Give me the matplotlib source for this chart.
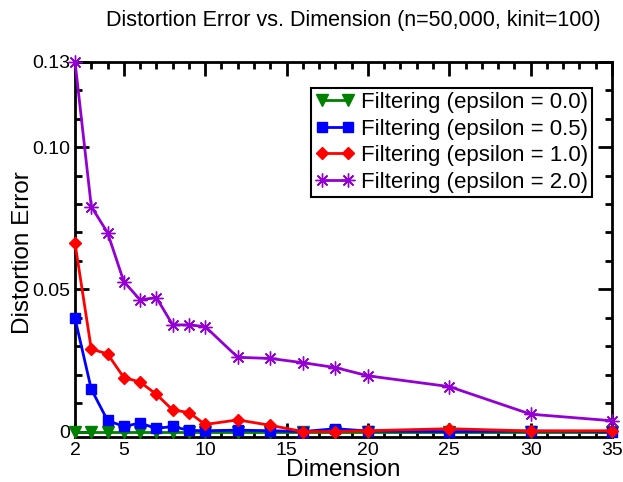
import matplotlib
matplotlib.use("Agg")
import matplotlib.pyplot as plt
from matplotlib.ticker import MultipleLocator, FixedLocator

plt.rcParams['font.family'] = ['Liberation Sans', 'DejaVu Sans']

dims = [2, 3, 4, 5, 6, 7, 8, 9, 10, 12, 14, 16, 18, 20, 25, 30, 35]
eps00 = [0.0] * 17
eps05 = [0.0398, 0.0149, 0.0039, 0.0018, 0.0030, 0.0011, 0.0018, 0.0004, 0.0003,
         0.0005, 0.0003, 0.0000, 0.0010, 0.0002, 0.0000, 0.0002, 0.0000]
eps10 = [0.0662, 0.0290, 0.0273, 0.0190, 0.0174, 0.0131, 0.0076, 0.0067, 0.0025,
         0.0041, 0.0022, 0.0000, 0.0000, 0.0003, 0.0010, 0.0002, 0.0003]
eps20 = [0.1300, 0.0791, 0.0699, 0.0527, 0.0463, 0.0471, 0.0375, 0.0375, 0.0369,
         0.0261, 0.0257, 0.0242, 0.0225, 0.0196, 0.0158, 0.0061, 0.0038]

labels = ["Filtering (epsilon = 0.0)", "Filtering (epsilon = 0.5)",
          "Filtering (epsilon = 1.0)", "Filtering (epsilon = 2.0)"]
xticks = [2, 5, 10, 15, 20, 25, 30, 35]
yticks = [0, 0.05, 0.10, 0.13]
ytick_labels = ["0", "0.05", "0.10", "0.13"]

fig = plt.figure(figsize=(6.23, 4.82), dpi=100)
ax = fig.add_axes([0.1204, 0.094, 0.862, 0.778])

ax.plot(dims, eps00, color='#008000', marker='v', markersize=8, lw=2, label=labels[0], clip_on=False, zorder=3)
ax.plot(dims, eps05, color='#0000ff', marker='s', markersize=7, lw=2, label=labels[1], clip_on=False, zorder=4)
ax.plot(dims, eps10, color='#ff0000', marker='D', markersize=6, lw=2, label=labels[2], clip_on=False, zorder=5)
ax.plot(dims, eps20, color='#9400d3', marker=(8, 2, 0), markersize=10, lw=2, mew=1.0,
        label=labels[3], clip_on=False, zorder=6)

ax.set_xlim(2, 35)
ax.set_ylim(-0.0018, 0.13)
ax.xaxis.set_major_locator(FixedLocator(xticks))
ax.xaxis.set_minor_locator(MultipleLocator(1))
ax.yaxis.set_major_locator(FixedLocator(yticks))
ax.set_yticklabels(ytick_labels)
ax.yaxis.set_minor_locator(MultipleLocator(0.01))

ax.tick_params(which='both', direction='in', top=True, right=True, width=2, labelsize=14)
ax.tick_params(which='major', length=10)
ax.tick_params(which='minor', length=5)
for s in ax.spines.values():
    s.set_linewidth(2)

ax.set_xlabel("Dimension", fontsize=17.5, labelpad=0)
ax.set_ylabel("Distortion Error", fontsize=17.5)
ax.yaxis.set_label_coords(-0.077, 0.49)
fig.suptitle("Distortion Error vs. Dimension (n=50,000, kinit=100)", fontsize=15.5, y=0.98, x=0.567)

leg = ax.legend(loc='upper right', fontsize=16, numpoints=2, handlelength=1.8,
                frameon=True, fancybox=False, edgecolor='black', framealpha=1,
                borderpad=0.2, labelspacing=0.25, handletextpad=0.25,
                bbox_to_anchor=(0.963, 0.931), borderaxespad=0)
leg.get_frame().set_linewidth(1.5)

fig.savefig("out.png", dpi=100)
